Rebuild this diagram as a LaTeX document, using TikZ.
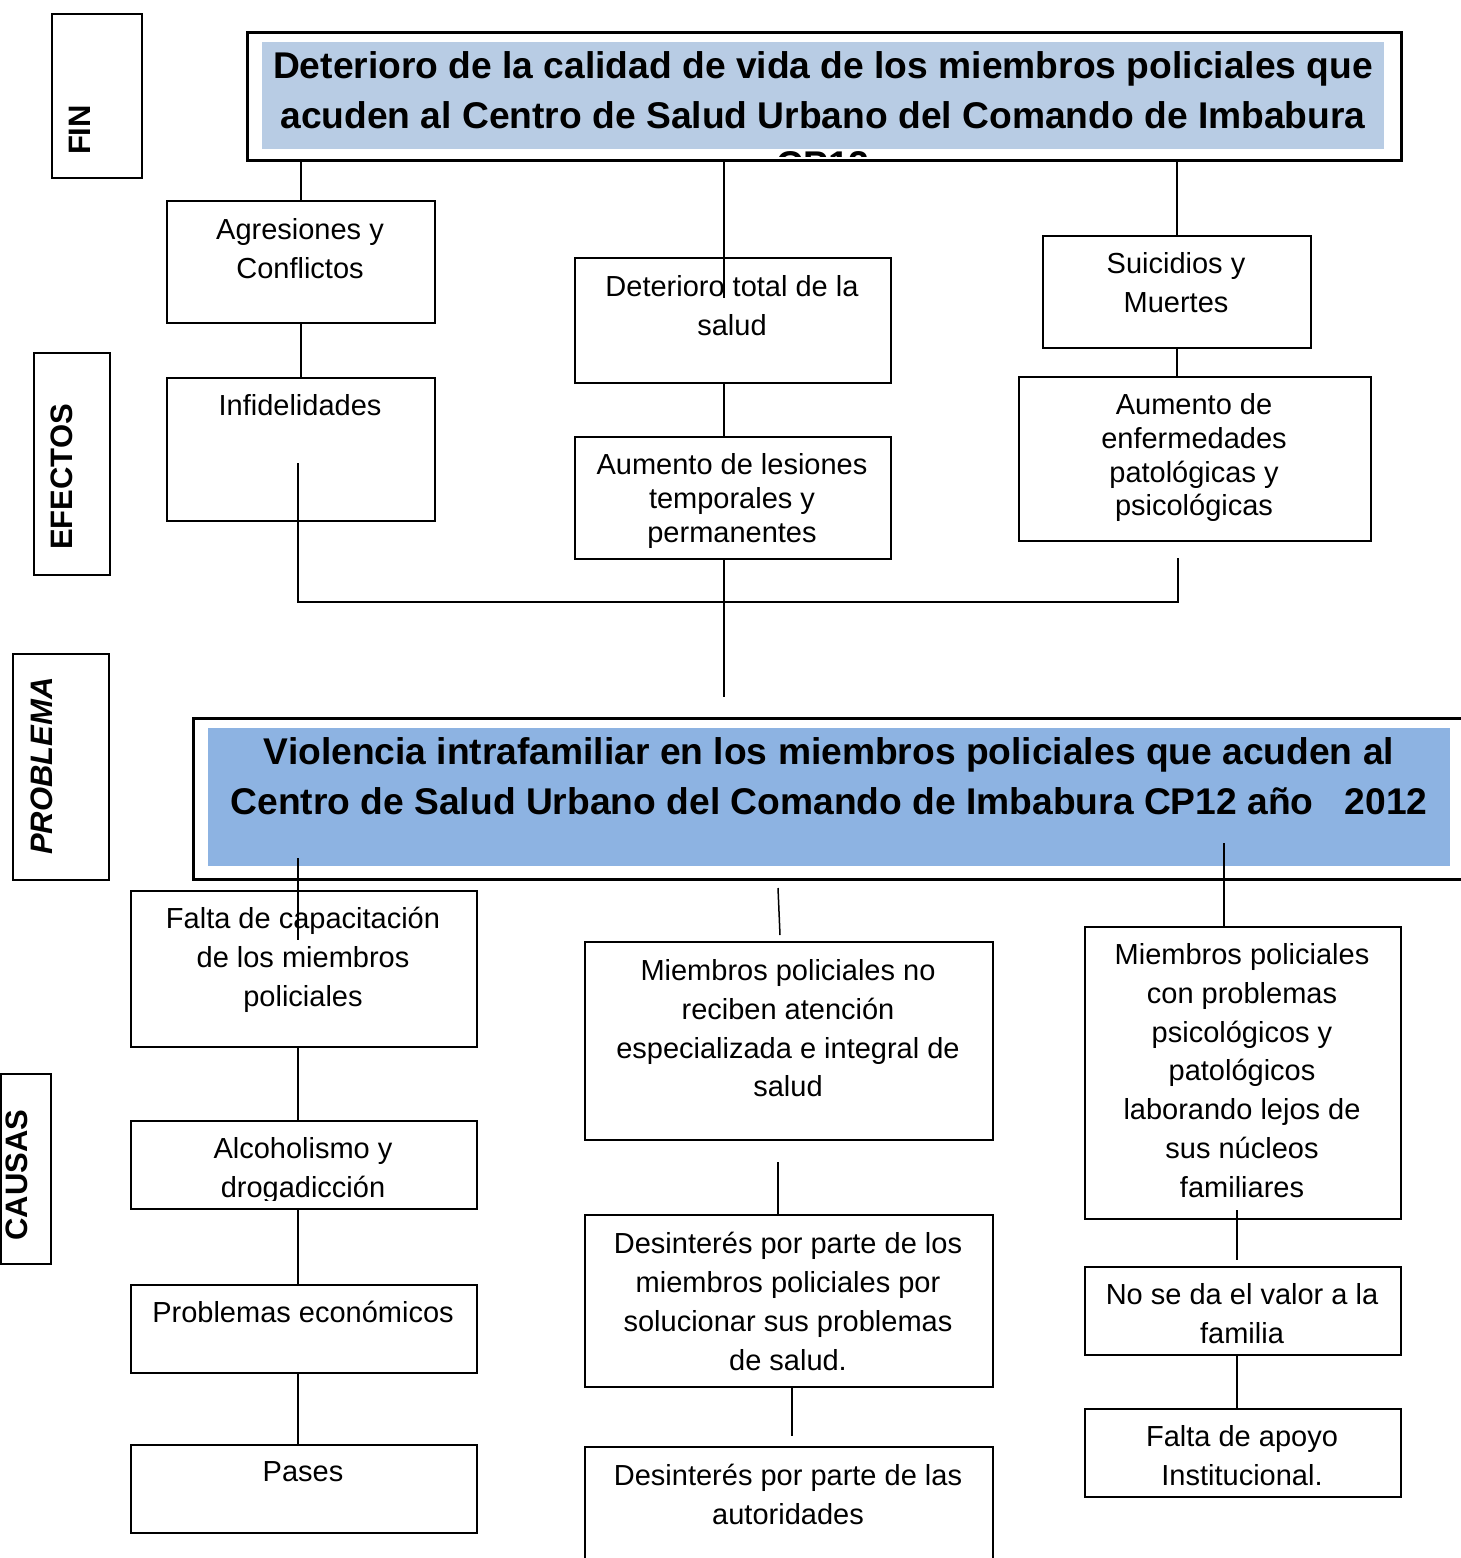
\documentclass[tikz,border=0pt]{standalone}
\usepackage{fontspec}
\setmainfont{Liberation Sans}
\definecolor{finfill}{HTML}{B8CCE4}
\definecolor{probfill}{HTML}{8DB3E2}
\newcommand\boxnode[5]{\node[box, minimum width={(#4-#2)*0.5pt}, minimum height={(#5-#3)*0.5pt}] (#1) at (#2,#3) {};}
\begin{document}
\begin{tikzpicture}[x=0.5pt,y=-0.5pt,
  box/.style={draw, line width=1pt, inner sep=0pt, anchor=north west},
  bigbox/.style={draw, line width=1.5pt},
  txt/.style={inner sep=0pt, anchor=north, align=center, font=\fontsize{14.5}{19.4}\selectfont},
  txtn/.style={inner sep=0pt, anchor=north, align=center, font=\fontsize{14.5}{16.9}\selectfont},
  ttl/.style={inner sep=0pt, anchor=north, align=center, font=\fontsize{18.6}{25}\selectfont\bfseries},
  side/.style={inner sep=0pt, rotate=90, font=\fontsize{15.5}{18}\selectfont\bfseries},
  conn/.style={line width=0.75pt}]
\useasboundingbox (0,0) rectangle (1461,1558);

% side labels
\boxnode{finB}{51}{13}{141}{177}
\node[side] (finT) at (80,130) {FIN};
\boxnode{efeB}{33}{352}{109}{574}
\node[side] (efeT) at (62,477) {EFECTOS};
\boxnode{proB}{12}{653}{108}{879}
\node[side, font=\fontsize{15.5}{18}\selectfont\bfseries\itshape] (proT) at (42,766) {PROBLEMA};
\boxnode{cauB}{0}{1073}{50}{1263}
\node[side] (cauT) at (17,1175) {CAUSAS};

% top (FIN) box
\fill[finfill] (262,42) rectangle (1384,149);
\node[ttl] (finText) at (823,51) {Deterioro de la calidad de vida de los miembros policiales que\\acuden al Centro de Salud Urbano del Comando de Imbabura};
\begin{scope}
\clip (262,149) rectangle (1384,156);
\node[ttl] (finCut) at (823,151) {CP12};
\end{scope}
\node[bigbox, minimum width={1154*0.5pt}, minimum height={128*0.5pt}, anchor=north west, inner sep=0pt] (top) at (246,31) {};

% effects
\boxnode{agr}{166}{200}{434}{322}
\node[txt] (agrT) at (300,218) {Agresiones y\\Conflictos};
\boxnode{inf}{166}{377}{434}{520}
\node[txt] (infT) at (300,394) {Infidelidades};
\boxnode{det}{574}{257}{890}{382}
\node[txt] (detT) at (732,275) {Deterioro total de la\\salud};
\boxnode{les}{574}{436}{890}{558}
\node[txtn] (lesT) at (732,453) {Aumento de lesiones\\temporales y\\permanentes};
\boxnode{sui}{1042}{235}{1310}{347}
\node[txt] (suiT) at (1176,252) {Suicidios y\\Muertes};
\boxnode{enf}{1018}{376}{1370}{540}
\node[txtn] (enfT) at (1194,393) {Aumento de\\enfermedades\\patológicas y\\psicológicas};

% problem
\fill[probfill] (208,728) rectangle (1450,866);
\node[ttl] (probText) at (829,737) {Violencia intrafamiliar en los miembros policiales que acuden al\\Centro de Salud Urbano del Comando de Imbabura CP12 año\ \ \ 2012};
\node[bigbox, minimum width={1283*0.5pt}, minimum height={161*0.5pt}, anchor=north west, inner sep=0pt] (prob) at (192,717) {};

% causes left
\boxnode{fal}{130}{890}{476}{1046}
\node[txt] (falT) at (303,907) {Falta de capacitación\\de los miembros\\policiales};
\boxnode{alc}{130}{1120}{476}{1208}
\begin{scope}
\clip (130,1120) rectangle (476,1200);
\node[txt] (alcT) at (303,1137) {Alcoholismo y\\drogadicción};
\end{scope}
\boxnode{eco}{130}{1284}{476}{1372}
\node[txt] (ecoT) at (303,1301) {Problemas económicos};
\boxnode{pas}{130}{1444}{476}{1532}
\node[txt] (pasT) at (303,1461) {Pases};

% causes middle
\boxnode{rec}{584}{941}{992}{1139}
\node[txt] (recT) at (788,959) {Miembros policiales no\\reciben atención\\especializada e integral de\\salud};
\boxnode{des}{584}{1214}{992}{1386}
\node[txt] (desT) at (788,1232) {Desinterés por parte de los\\miembros policiales por\\solucionar sus problemas\\de salud.};
\boxnode{aut}{584}{1446}{992}{1600}
\node[txt] (autT) at (788,1464) {Desinterés por parte de las\\autoridades};

% causes right
\boxnode{psi}{1084}{926}{1400}{1218}
\node[txt] (psiT) at (1242,943) {Miembros policiales\\con problemas\\psicológicos y\\patológicos\\laborando lejos de\\sus núcleos\\familiares};
\boxnode{val}{1084}{1266}{1400}{1354}
\node[txt] (valT) at (1242,1283) {No se da el valor a la\\familia};
\boxnode{apo}{1084}{1408}{1400}{1496}
\node[txt] (apoT) at (1242,1425) {Falta de apoyo\\Institucional.};

% coordinates for connectors
\coordinate (detin) at (724,298);
\coordinate (infin) at (298,463);
\coordinate (busL) at (298,602);
\coordinate (busR) at (1178,602);
\coordinate (enfout) at (1178,558);
\coordinate (probtop) at (724,697);
\coordinate (p1) at (298,858);
\coordinate (falin) at (298,940);
\coordinate (m1) at (778,888);
\coordinate (m2) at (780,935);
\coordinate (r1) at (1224,843);
\coordinate (m3) at (778,1162);
\coordinate (m4) at (792,1436);
\coordinate (r2) at (1237,1210);
\coordinate (r3) at (1237,1260);

% connectors (effects)
\draw[conn] (agr.north |- top.south) -- (agr.north);
\draw[conn] (detin |- top.south) -- (detin);
\draw[conn] (sui.north |- top.south) -- (sui.north);
\draw[conn] (agr.south) -- (inf.north);
\draw[conn] (infin) -- (busL) -- (busR) -- (enfout);
\draw[conn] (detin |- det.south) -- (detin |- les.north);
\draw[conn] (detin |- les.south) -- (probtop);
\draw[conn] (sui.south) -- (sui.south |- enf.north);

% connectors (causes)
\draw[conn] (p1) -- (falin);
\draw[conn] (m1) -- (m2);
\draw[conn] (r1) -- (r1 |- psi.north);
\draw[conn] (falin |- fal.south) -- (falin |- alc.north);
\draw[conn] (falin |- alc.south) -- (falin |- eco.north);
\draw[conn] (falin |- eco.south) -- (falin |- pas.north);
\draw[conn] (m3) -- (m3 |- des.north);
\draw[conn] (m4 |- des.south) -- (m4);
\draw[conn] (r2) -- (r3);
\draw[conn] (r2 |- val.south) -- (r2 |- apo.north);
\end{tikzpicture}
\end{document}
